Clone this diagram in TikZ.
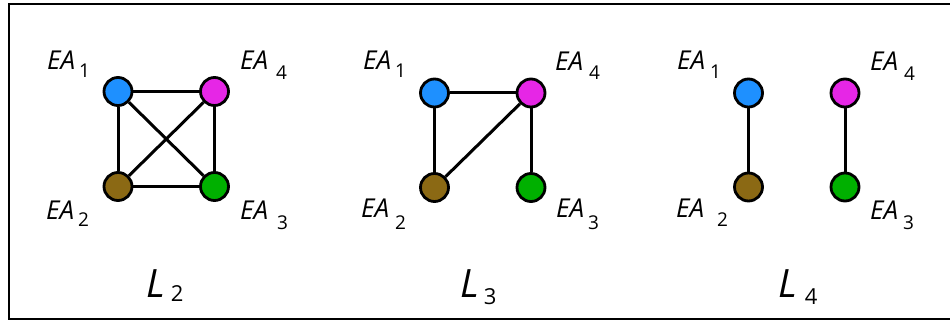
\documentclass[tikz,border=0pt]{standalone}
\usepackage{fontspec}
\setmainfont{Open Sans}
\usepackage{tikz}
\usetikzlibrary{positioning}

\definecolor{eablue}{HTML}{1E90FF}
\definecolor{eamagenta}{HTML}{E626E6}
\definecolor{eabrown}{HTML}{8B6914}
\definecolor{eagreen}{HTML}{00B000}

% label text: EA, a gap, then the lowered number
\newcommand{\eatext}[3]{EA\hspace{#1pt}\raisebox{-#2pt}{\fontsize{19}{19}\selectfont\upshape #3}}
\newcommand{\ltext}[3]{L\hspace{#1pt}\raisebox{-#2pt}{\fontsize{22}{22}\selectfont\upshape #3}}

\begin{document}
\begin{tikzpicture}[x=1pt,y=-1pt,
    agent/.style={circle,draw=black,line width=2.8pt,minimum size=28pt,inner sep=0pt},
    link/.style={line width=3pt},
    ealabel/.style={inner sep=0pt,anchor=base west,font=\fontsize{26}{26}\selectfont\itshape},
    lname/.style={inner sep=0pt,anchor=base west,font=\fontsize{39}{39}\selectfont\itshape}]
    \useasboundingbox (0,0) rectangle (950,320);
    \draw[line width=2pt] (9,4) rectangle (980,318.5);

    % L_2
    \node[agent,fill=eablue]    (l2e1) at (118,91.5) {};
    \node[agent,fill=eabrown]   (l2e2) at (118,186.5) {};
    \node[agent,fill=eagreen]   (l2e3) at (214.5,186.5) {};
    \node[agent,fill=eamagenta] (l2e4) at (214.5,91.5) {};
    \draw[link] (l2e1) -- (l2e4);
    \draw[link] (l2e1) -- (l2e2);
    \draw[link] (l2e4) -- (l2e3);
    \draw[link] (l2e2) -- (l2e3);
    \draw[link] (l2e1) -- (l2e3);
    \draw[link] (l2e2) -- (l2e4);
    \node[ealabel] (l2t1) at (47,70)  {\eatext{4}{8}{1}};
    \node[ealabel] (l2t4) at (240,70) {\eatext{8}{10}{4}};
    \node[ealabel] (l2t2) at (46,220) {\eatext{4}{7}{2}};
    \node[ealabel] (l2t3) at (240,220) {\eatext{9}{10}{3}};
    \node[lname] (l2name) at (146,298) {\ltext{6}{4}{2}};

    % L_3
    \node[agent,fill=eablue]    (l3e1) at (434.5,93) {};
    \node[agent,fill=eabrown]   (l3e2) at (434.5,187.5) {};
    \node[agent,fill=eagreen]   (l3e3) at (531,187.5) {};
    \node[agent,fill=eamagenta] (l3e4) at (531,93) {};
    \draw[link] (l3e1) -- (l3e4);
    \draw[link] (l3e1) -- (l3e2);
    \draw[link] (l3e4) -- (l3e2);
    \draw[link] (l3e4) -- (l3e3);
    \node[ealabel] (l3t1) at (363,70)  {\eatext{4}{8}{1}};
    \node[ealabel] (l3t4) at (555,71)  {\eatext{6}{9}{4}};
    \node[ealabel] (l3t2) at (361,218) {\eatext{6}{12}{2}};
    \node[ealabel] (l3t3) at (556,218) {\eatext{4}{12}{3}};
    \node[lname] (l3name) at (460,298) {\ltext{5}{6}{3}};

    % L_4
    \node[agent,fill=eablue]    (l4e1) at (748.5,93) {};
    \node[agent,fill=eabrown]   (l4e2) at (748.5,187) {};
    \node[agent,fill=eagreen]   (l4e3) at (845,187) {};
    \node[agent,fill=eamagenta] (l4e4) at (845,93) {};
    \draw[link] (l4e1) -- (l4e2);
    \draw[link] (l4e4) -- (l4e3);
    \node[ealabel] (l4t1) at (677,70)  {\eatext{5}{9}{1}};
    \node[ealabel] (l4t4) at (870,70.5) {\eatext{6}{10}{4}};
    \node[ealabel] (l4t2) at (676,218) {\eatext{13}{9}{2}};
    \node[ealabel] (l4t3) at (870,220) {\eatext{5}{10}{3}};
    \node[lname] (l4name) at (778,298) {\ltext{8}{6}{4}};
\end{tikzpicture}
\end{document}
